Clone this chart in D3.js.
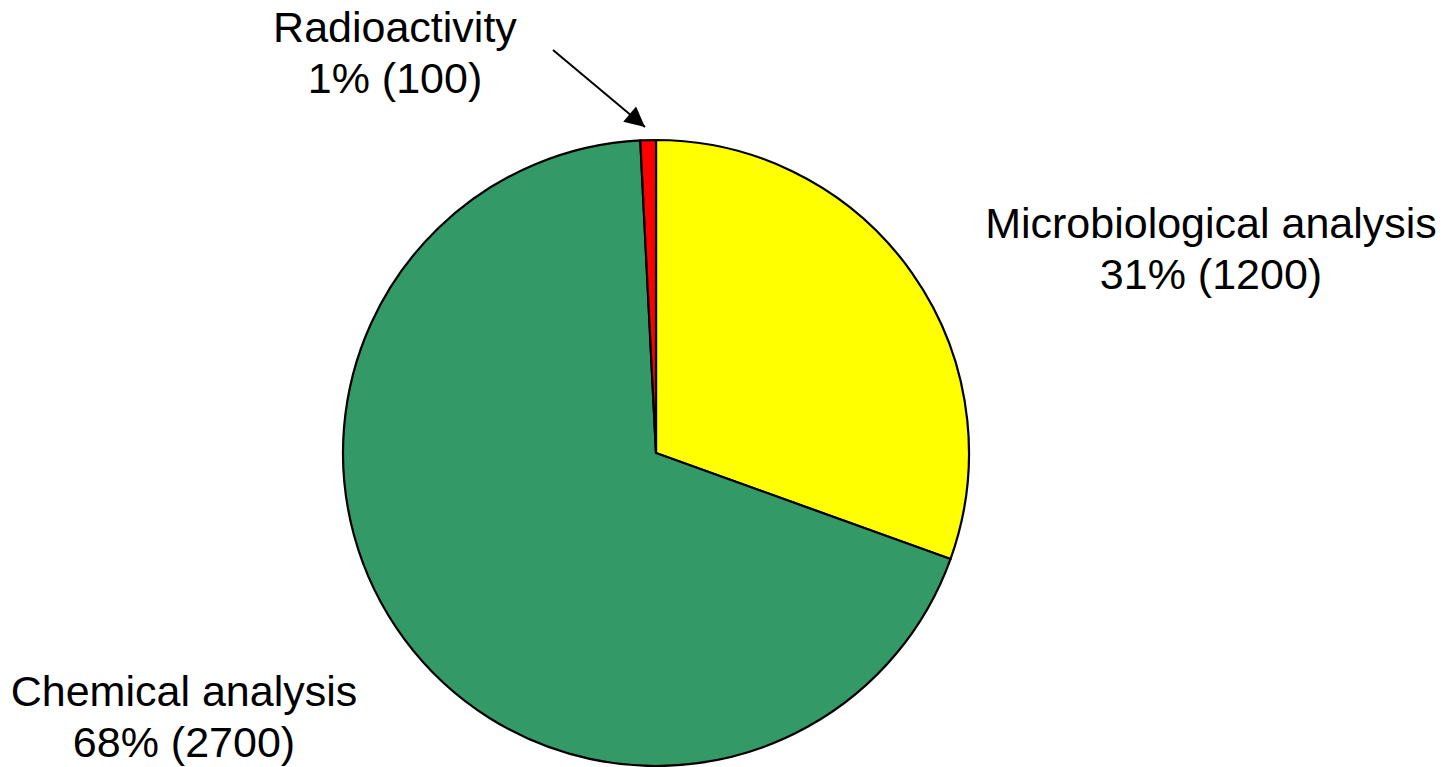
<!DOCTYPE html>
<html>
<head>
<meta charset="utf-8">
<script src="https://cdn.jsdelivr.net/npm/d3@7"></script>
<style>
  html, body { margin: 0; padding: 0; background: #fff; }
  svg { display: block; }
  text { font-family: "Liberation Sans", Arial, sans-serif; fill: #000; }
</style>
</head>
<body>
<svg id="chart" width="1447" height="767"></svg>
<script>
// Data
const categories = ["Microbiological analysis", "Chemical analysis", "Radioactivity"];
const sliceShares = [30.5, 68.7, 0.8];          // share of the circle as drawn (%)
const percentLabels = ["31%", "68%", "1%"];
const countLabels = ["1200", "2700", "100"];
const colors = ["#FFFF00", "#339966", "#FF0000"];

const W = 1447, H = 767;
const cx = 656, cy = 453, R = 313;
const fontSize = 43, lineH = 51;

const svg = d3.select("#chart");

svg.append("defs").append("marker")
  .attr("id", "arrowhead")
  .attr("viewBox", "0 0 10 10")
  .attr("refX", 10).attr("refY", 5)
  .attr("markerWidth", 22).attr("markerHeight", 20)
  .attr("markerUnits", "userSpaceOnUse")
  .attr("orient", "auto")
  .append("path").attr("d", "M0,0 L10,5 L0,10 Z").attr("fill", "#000");

const data = categories.map((c, i) => ({ cat: c, share: sliceShares[i], pct: percentLabels[i], cnt: countLabels[i], color: colors[i] }));

const pie = d3.pie().value(d => d.share).sort(null).startAngle(0).endAngle(2 * Math.PI);
const arc = d3.arc().innerRadius(0).outerRadius(R);

const g = svg.append("g").attr("transform", `translate(${cx},${cy})`);
g.selectAll("path.slice")
  .data(pie(data))
  .join("path")
  .attr("class", "slice")
  .attr("d", arc)
  .attr("fill", d => d.data.color)
  .attr("stroke", "#000")
  .attr("stroke-width", 2.2)
  .attr("stroke-linejoin", "round");

// Label positions
const labelPos = [
  { x: 1211, y: 238 },   // Microbiological
  { x: 184, y: 706 },    // Chemical
  { x: 395, y: 42 }      // Radioactivity
];

data.forEach((d, i) => {
  const t = svg.append("text")
    .attr("text-anchor", "middle")
    .attr("font-size", fontSize);
  t.append("tspan").attr("x", labelPos[i].x).attr("y", labelPos[i].y).text(d.cat);
  t.append("tspan").attr("x", labelPos[i].x).attr("y", labelPos[i].y + lineH).text(`${d.pct} (${d.cnt})`);
});

// Leader arrow for Radioactivity
svg.append("line")
  .attr("x1", 553).attr("y1", 50)
  .attr("x2", 645).attr("y2", 127)
  .attr("stroke", "#000").attr("stroke-width", 2)
  .attr("marker-end", "url(#arrowhead)");
</script>
</body>
</html>
